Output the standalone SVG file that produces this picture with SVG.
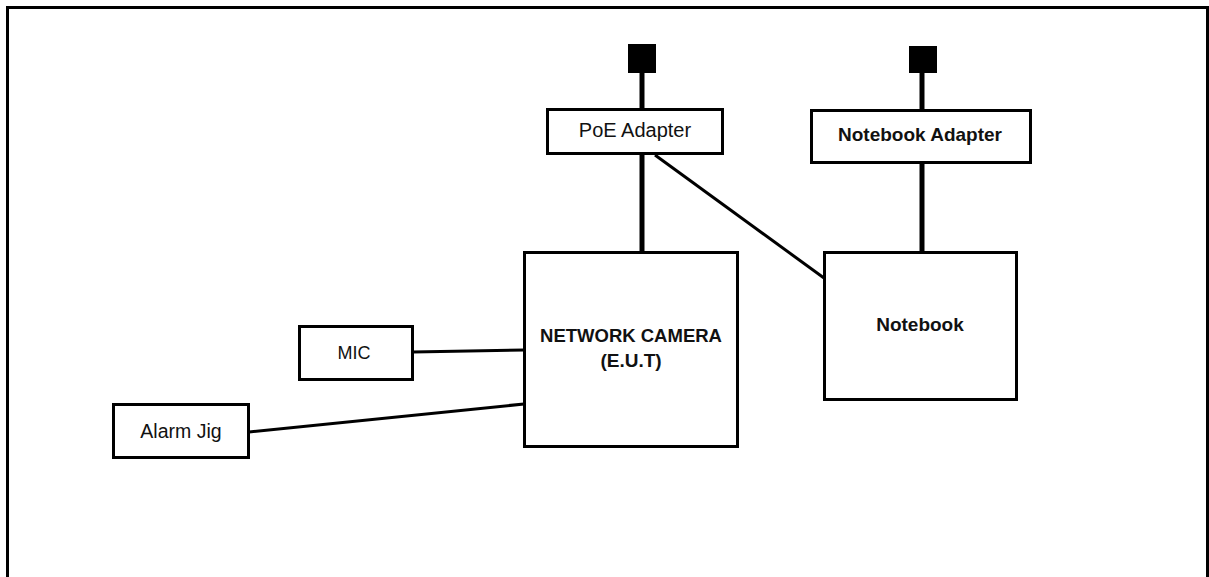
<svg xmlns="http://www.w3.org/2000/svg" width="1209" height="577" viewBox="0 0 1209 577">
<style>
.box{fill:#fff;stroke:#000;stroke-width:3}
.plug{fill:#000}
.pw{stroke:#000;stroke-width:5;fill:none}
.ln{stroke:#000;stroke-width:3;fill:none}
text{font-family:"Liberation Sans",Arial,sans-serif;fill:#111;text-anchor:middle}
.r{font-weight:normal}
.b{font-weight:bold}
</style>
<rect width="1209" height="577" fill="#fff"/>
<path d="M7.5 590 V7.5 H1207.5 V590" fill="none" stroke="#000" stroke-width="3"/>
<g id="connectors">
<line class="pw" x1="642" y1="72" x2="642" y2="109"/>
<line class="pw" x1="642" y1="154" x2="642" y2="253"/>
<line class="pw" x1="922" y1="72" x2="922" y2="110"/>
<line class="pw" x1="922" y1="163" x2="922" y2="253"/>
<line class="ln" x1="655" y1="155" x2="824" y2="278"/>
<line class="ln" x1="413" y1="352" x2="524" y2="350"/>
<line class="ln" x1="249" y1="432" x2="524" y2="404"/>
</g>
<g id="poe-plug"><rect class="plug" x="628" y="44" width="28" height="29"/></g>
<g id="nb-plug"><rect class="plug" x="909" y="46" width="28" height="27"/></g>
<g id="poe-adapter">
<rect class="box" x="547.5" y="109.5" width="175" height="44"/>
<text class="r" x="635" y="137" font-size="20">PoE Adapter</text>
</g>
<g id="notebook-adapter">
<rect class="box" x="811.5" y="110.5" width="219" height="52"/>
<text class="b" x="920" y="141" font-size="19">Notebook Adapter</text>
</g>
<g id="camera">
<rect class="box" x="524.5" y="252.5" width="213" height="194"/>
<text class="b" x="631" y="342" font-size="18.5">NETWORK CAMERA</text>
<text class="b" x="631" y="367" font-size="19">(E.U.T)</text>
</g>
<g id="notebook">
<rect class="box" x="824.5" y="252.5" width="192" height="147"/>
<text class="b" x="920" y="331" font-size="19">Notebook</text>
</g>
<g id="mic">
<rect class="box" x="299.5" y="326.5" width="113" height="53"/>
<text class="r" x="354" y="359" font-size="18">MIC</text>
</g>
<g id="alarm-jig">
<rect class="box" x="113.5" y="404.5" width="135" height="53"/>
<text class="r" x="181" y="438" font-size="19.5">Alarm Jig</text>
</g>
</svg>
